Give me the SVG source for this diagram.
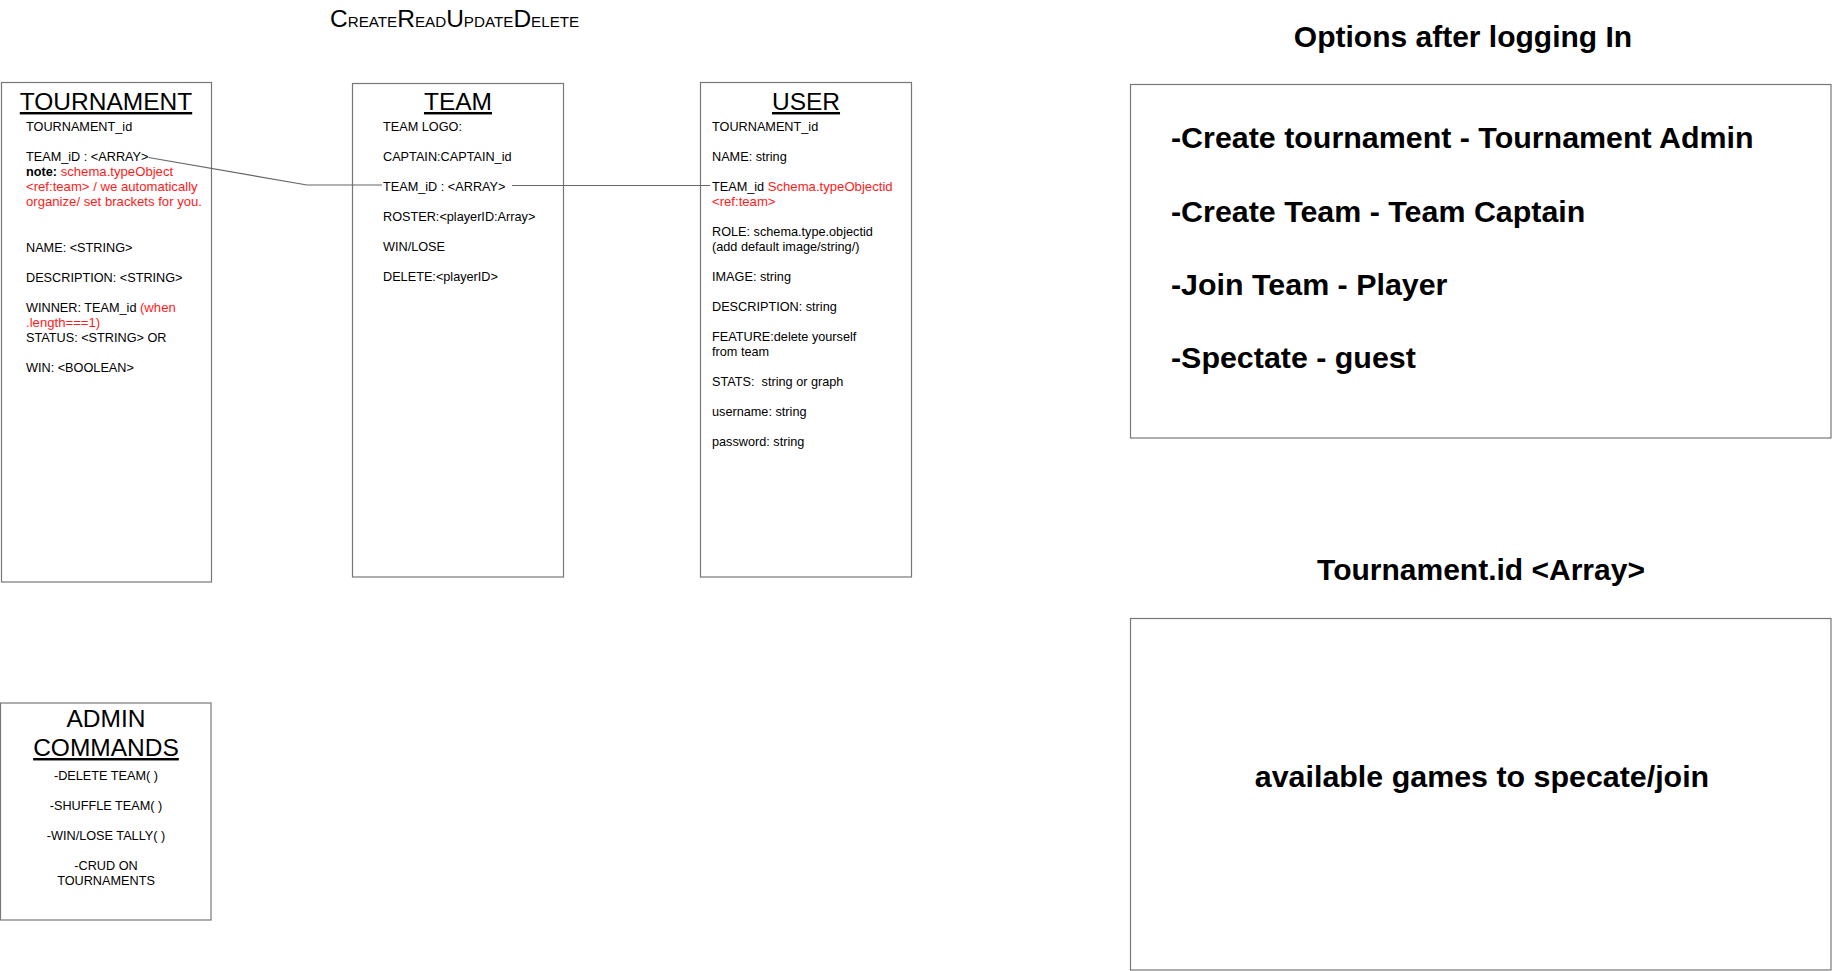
<svg xmlns="http://www.w3.org/2000/svg" width="1832" height="971" viewBox="0 0 1832 971">
<style>
  text { font-family: "Liberation Sans", Arial, Helvetica, sans-serif; fill: #000; }
  .box { fill: #fff; stroke: #777; stroke-width: 1.2; }
  .t { font-size: 12.7px; }
  .h { font-size: 24.5px; text-decoration: underline; }
  .hn { font-size: 24.5px; }
  .red { fill: #ff1a1a; font-size: 13.15px; }
  .b { font-weight: bold; }
  .big { font-size: 30px; font-weight: bold; }
  .item { font-size: 30.4px; font-weight: bold; }
  .conn { fill: none; stroke: #666; stroke-width: 1.2; }
</style>
<rect width="1832" height="971" fill="#fff"/>

<g id="crud-title">
  <text x="330" y="27.3"><tspan font-size="24.5px">C</tspan><tspan font-size="15.2px">REATE</tspan><tspan font-size="24.5px">R</tspan><tspan font-size="15.2px">EAD</tspan><tspan font-size="24.5px">U</tspan><tspan font-size="15.2px">PDATE</tspan><tspan font-size="24.5px">D</tspan><tspan font-size="15.2px">ELETE</tspan></text>
</g>

<g id="tournament">
  <rect class="box" x="1.5" y="82.5" width="210" height="499.5"/>
  <text class="h" x="106" y="110" text-anchor="middle">TOURNAMENT</text>
  <text class="t" x="26" y="130.7">TOURNAMENT_id</text>
  <text class="t" x="26" y="160.9">TEAM_iD : &lt;ARRAY&gt;</text>
  <text class="t" x="26" y="176"><tspan class="b">note:</tspan><tspan class="red"> schema.typeObject</tspan></text>
  <text class="t red" x="26" y="191.1">&lt;ref:team&gt; / we automatically</text>
  <text class="t red" x="26" y="206.2">organize/ set brackets for you.</text>
  <text class="t" x="26" y="251.5">NAME: &lt;STRING&gt;</text>
  <text class="t" x="26" y="281.7">DESCRIPTION: &lt;STRING&gt;</text>
  <text class="t" x="26" y="311.9">WINNER: TEAM_id <tspan class="red">(when</tspan></text>
  <text class="t red" x="26" y="327">.length===1)</text>
  <text class="t" x="26" y="342.1">STATUS: &lt;STRING&gt; OR</text>
  <text class="t" x="26" y="372.3">WIN: &lt;BOOLEAN&gt;</text>
</g>

<g id="team">
  <rect class="box" x="352.5" y="83.5" width="211" height="493.5"/>
  <text class="h" x="458" y="110" text-anchor="middle">TEAM</text>
  <text class="t" x="383" y="131">TEAM LOGO:</text>
  <text class="t" x="383" y="161">CAPTAIN:CAPTAIN_id</text>
  <text class="t" x="383" y="191">TEAM_iD : &lt;ARRAY&gt;</text>
  <text class="t" x="383" y="221">ROSTER:&lt;playerID:Array&gt;</text>
  <text class="t" x="383" y="251">WIN/LOSE</text>
  <text class="t" x="383" y="281">DELETE:&lt;playerID&gt;</text>
</g>

<g id="user">
  <rect class="box" x="700.5" y="82.5" width="211" height="494.5"/>
  <text class="h" x="806" y="110" text-anchor="middle">USER</text>
  <text class="t" x="712" y="131">TOURNAMENT_id</text>
  <text class="t" x="712" y="161">NAME: string</text>
  <text class="t" x="712" y="191">TEAM_id <tspan class="red">Schema.typeObjectid</tspan></text>
  <text class="t red" x="712" y="206">&lt;ref:team&gt;</text>
  <text class="t" x="712" y="236">ROLE: schema.type.objectid</text>
  <text class="t" x="712" y="251">(add default image/string/)</text>
  <text class="t" x="712" y="281">IMAGE: string</text>
  <text class="t" x="712" y="311">DESCRIPTION: string</text>
  <text class="t" x="712" y="341">FEATURE:delete yourself</text>
  <text class="t" x="712" y="356">from team</text>
  <text class="t" x="712" y="386" xml:space="preserve">STATS:  string or graph</text>
  <text class="t" x="712" y="416">username: string</text>
  <text class="t" x="712" y="446">password: string</text>
</g>

<g id="admin-commands">
  <rect class="box" x="0.5" y="703" width="210.5" height="217"/>
  <text class="hn" x="106" y="726.7" text-anchor="middle">ADMIN</text>
  <text class="h" x="106" y="756" text-anchor="middle">COMMANDS</text>
  <text class="t" x="106" y="780" text-anchor="middle">-DELETE TEAM( )</text>
  <text class="t" x="106" y="810" text-anchor="middle">-SHUFFLE TEAM( )</text>
  <text class="t" x="106" y="840" text-anchor="middle">-WIN/LOSE TALLY( )</text>
  <text class="t" x="106" y="870" text-anchor="middle">-CRUD ON</text>
  <text class="t" x="106" y="885" text-anchor="middle">TOURNAMENTS</text>
</g>

<g id="options">
  <text class="big" x="1463" y="46.7" text-anchor="middle">Options after logging In</text>
  <rect class="box" x="1130.5" y="84.5" width="700.5" height="353.5"/>
  <text class="item" x="1171" y="147.7">-Create tournament - Tournament Admin</text>
  <text class="item" x="1171" y="221.5">-Create Team - Team Captain</text>
  <text class="item" x="1171" y="295">-Join Team - Player</text>
  <text class="item" x="1171" y="368.3">-Spectate - guest</text>
</g>

<g id="tournament-array">
  <text class="big" x="1481" y="580" text-anchor="middle">Tournament.id &lt;Array&gt;</text>
  <rect class="box" x="1130.5" y="618.5" width="700.5" height="351.5"/>
  <text class="item" x="1482" y="786.7" text-anchor="middle">available games to specate/join</text>
</g>

<g id="connectors">
  <path class="conn" d="M148.5,157.5 L307,185 L382,185"/>
  <path class="conn" d="M512,185.5 L710,185.5"/>
</g>
</svg>
